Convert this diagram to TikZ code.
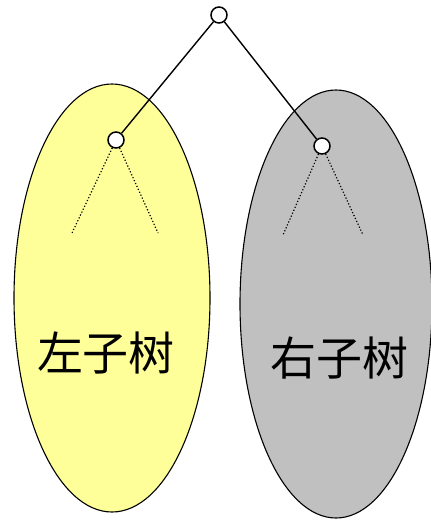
\documentclass[tikz,border=0pt]{standalone}
\usepackage{fontspec}
\newfontfamily\cjk{Noto Sans CJK SC}
\usetikzlibrary{shapes.geometric}
\definecolor{lyellow}{RGB}{255,255,153}
\definecolor{lgray}{RGB}{192,192,192}
\tikzset{
  treenode/.style={circle,draw,fill=white,line width=1.5pt,minimum size=16pt,inner sep=0pt},
  subtree/.style={ellipse,draw,line width=1.1pt,inner sep=0pt},
  edge/.style={line width=1.4pt},
  hint/.style={dotted,line width=1.2pt},
  lbl/.style={font=\cjk\fontsize{46}{46}\selectfont}
}
\begin{document}
\begin{tikzpicture}[x=1pt,y=-1pt]
\useasboundingbox (0,0) rectangle (431,520);
\clip (0,0) rectangle (431,520);
\node[subtree,fill=lyellow,minimum width=196pt,minimum height=428pt] (L) at (112,298) {};
\node[subtree,fill=lgray,minimum width=192pt,minimum height=428pt] (R) at (336,304) {};
\node[lbl] (lt) at (106,353) {左子树};
\node[lbl] (rt) at (339,358) {右子树};
\node[treenode] (root) at (219,15) {};
\node[treenode] (a) at (116,140) {};
\node[treenode] (b) at (322,146) {};
\draw[edge] (root) -- (a);
\draw[edge] (root) -- (b);
\coordinate (a1) at (72,233);
\coordinate (a2) at (158,233);
\coordinate (b1) at (283,235);
\coordinate (b2) at (363,235);
\draw[hint] (a) -- (a1);
\draw[hint] (a) -- (a2);
\draw[hint] (b) -- (b1);
\draw[hint] (b) -- (b2);
\end{tikzpicture}
\end{document}
